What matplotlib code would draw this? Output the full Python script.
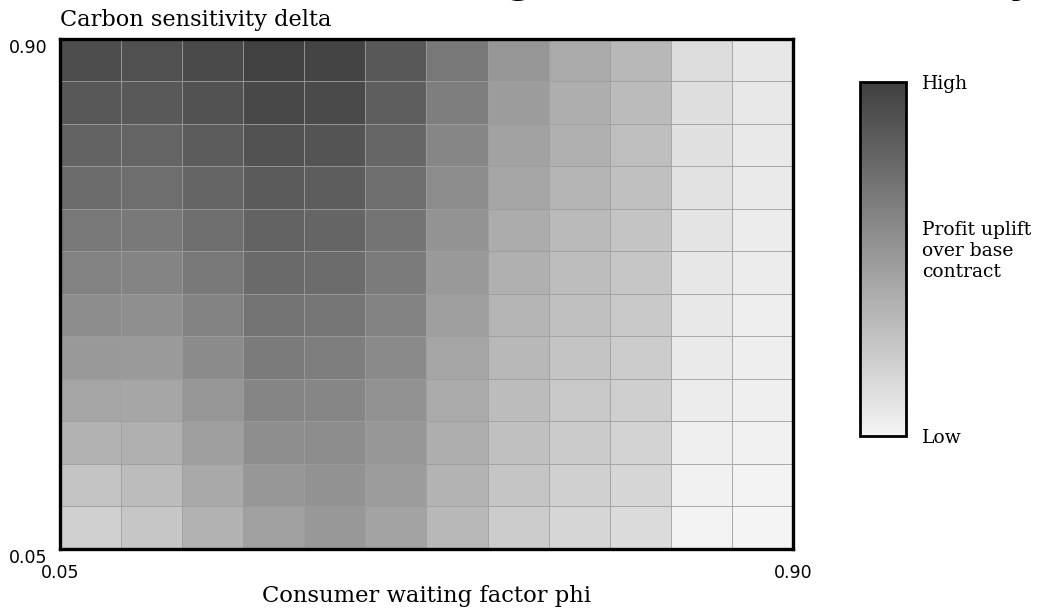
import numpy as np
import matplotlib
matplotlib.use("Agg")
import matplotlib.pyplot as plt
from matplotlib.colors import LinearSegmentedColormap

# consumer waiting factor phi (x) and carbon sensitivity delta (y), 12 cells each
phi_edges = np.linspace(0.05, 0.90, 13)
delta_edges = np.linspace(0.05, 0.90, 13)

# profit uplift index, rows from delta = 0.05 (bottom) up to delta = 0.90 (top)
uplift = np.array([
    [47, 57, 77, 95, 103, 92, 71, 51, 41, 37, 12, 11],
    [60, 67, 86, 104, 109, 99, 76, 58, 47, 41, 14, 13],
    [77, 79, 96, 113, 115, 104, 81, 63, 52, 45, 16, 14],
    [90, 89, 105, 122, 121, 109, 85, 67, 55, 48, 19, 16],
    [102, 101, 116, 132, 129, 117, 90, 71, 59, 51, 21, 17],
    [114, 112, 125, 140, 137, 124, 96, 75, 63, 54, 23, 18],
    [125, 123, 135, 149, 147, 132, 102, 79, 66, 57, 25, 19],
    [135, 134, 144, 156, 154, 139, 108, 83, 69, 59, 27, 20],
    [146, 145, 154, 164, 162, 145, 115, 89, 75, 63, 29, 21],
    [156, 155, 163, 173, 171, 153, 121, 93, 79, 65, 31, 22],
    [167, 165, 173, 183, 181, 161, 129, 99, 81, 68, 33, 23],
    [178, 175, 181, 189, 187, 167, 135, 105, 85, 71, 35, 24],
])

plt.rcParams["font.family"] = "DejaVu Serif"

fig = plt.figure(figsize=(10.41, 6.11), dpi=100)
ax = fig.add_axes([0.0576, 0.1015, 0.7042, 0.8347])
cax = fig.add_axes([0.826, 0.2864, 0.044, 0.579])

cmap = LinearSegmentedColormap.from_list("uplift", ["#f4f4f4", "#404040"])
mesh = ax.pcolormesh(phi_edges, delta_edges, uplift, cmap=cmap, vmin=11, vmax=191,
                     edgecolors=(0.62, 0.62, 0.62, 0.85), linewidth=0.7)

ax.set_xlim(0.05, 0.90)
ax.set_ylim(0.05, 0.90)
ax.set_xticks([0.05, 0.90])
ax.set_xticklabels(["0.05", "0.90"], family="DejaVu Sans")
ax.set_yticks([0.05, 0.90])
ax.set_yticklabels(["0.05", "0.90"], family="DejaVu Sans", va="top")
ax.tick_params(axis="both", length=0, labelsize=12.5)
ax.tick_params(axis="x", pad=11)
ax.tick_params(axis="y", pad=9)
for sp in ax.spines.values():
    sp.set_linewidth(2.4)
    sp.set_color("black")

ax.set_xlabel("Consumer waiting factor phi", fontsize=16.3, labelpad=2)
fig.text(0.0576, 0.968, "Carbon sensitivity delta", fontsize=16.2, ha="left", va="center")

# title mostly sits above the canvas
fig.text(0.993, 1.011, "Contract benefit from consumer waiting and carbon sensitivity",
         fontsize=28, fontweight="bold", family="DejaVu Sans", ha="right", va="baseline")

cb = fig.colorbar(mesh, cax=cax)
cb.set_ticks([11, 107, 191])
cb.set_ticklabels(["Low", "Profit uplift\nover base\ncontract", "High"])
cb.ax.tick_params(length=0, labelsize=13.5, pad=12)
cb.outline.set_linewidth(2)
cb.outline.set_edgecolor("black")

fig.savefig("out.png", dpi=100)
